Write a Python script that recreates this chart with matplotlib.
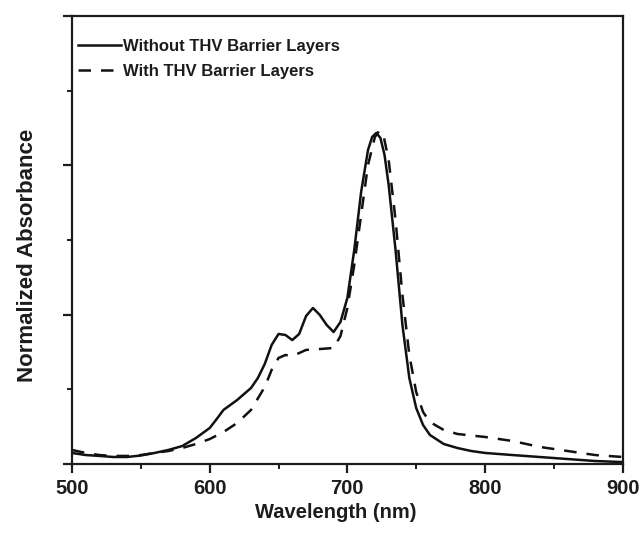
import matplotlib
matplotlib.use("Agg")
import matplotlib.pyplot as plt
from matplotlib.ticker import MultipleLocator, NullFormatter

plt.rcParams['font.family'] = ['Liberation Sans', 'DejaVu Sans']
plt.rcParams['font.weight'] = 'bold'

wl_without = [500, 510, 520, 530, 540, 550, 560, 570, 580, 590, 600, 605, 610, 620, 630, 635,
              640, 645, 650, 655, 660, 665, 670, 675, 680, 685, 690, 695, 700, 705, 710, 715,
              718, 721, 724, 727, 730, 735, 740, 745, 750, 755, 760, 770, 780, 790, 800, 820,
              850, 880, 900]
abs_without = [0.074, 0.060, 0.054, 0.047, 0.047, 0.057, 0.074, 0.094, 0.120, 0.174, 0.241, 0.300,
               0.362, 0.429, 0.509, 0.576, 0.670, 0.797, 0.871, 0.864, 0.830, 0.871, 0.991, 1.045,
               0.998, 0.931, 0.884, 0.951, 1.112, 1.433, 1.822, 2.103, 2.190, 2.217, 2.184, 2.070,
               1.869, 1.433, 0.931, 0.576, 0.375, 0.261, 0.194, 0.134, 0.107, 0.087, 0.074, 0.060,
               0.040, 0.020, 0.013]

wl_with = [500, 510, 520, 530, 540, 550, 560, 570, 580, 590, 600, 610, 620, 630, 640, 645, 650,
           655, 660, 665, 670, 680, 690, 695, 700, 705, 710, 715, 720, 723, 726, 730, 735, 740,
           745, 750, 755, 760, 770, 780, 800, 820, 840, 860, 880, 900]
abs_with = [0.094, 0.074, 0.060, 0.054, 0.054, 0.060, 0.074, 0.087, 0.107, 0.134, 0.167, 0.214,
            0.275, 0.362, 0.516, 0.630, 0.710, 0.730, 0.723, 0.743, 0.764, 0.770, 0.777, 0.857,
            1.045, 1.333, 1.668, 2.003, 2.190, 2.230, 2.210, 2.036, 1.634, 1.132, 0.730, 0.482,
            0.348, 0.281, 0.228, 0.201, 0.181, 0.154, 0.114, 0.087, 0.060, 0.047]

labels = ["Without THV Barrier Layers", "With THV Barrier Layers"]
xlabel = "Wavelength (nm)"
ylabel = "Normalized Absorbance"

fig = plt.figure(figsize=(6.4, 5.35), dpi=100)
ax = fig.add_axes([0.1125, 0.1327, 0.8605, 0.8373])

ink = '#1c1c1c'
ax.plot(wl_without, abs_without, color='#111111', lw=1.8, ls='-', label=labels[0])
ax.plot(wl_with, abs_with, color='#111111', lw=1.8, ls=(0, (5, 4)), label=labels[1])

ax.set_xlim(500, 900)
ax.set_ylim(0, 3)
ax.xaxis.set_major_locator(MultipleLocator(100))
ax.xaxis.set_minor_locator(MultipleLocator(50))
ax.yaxis.set_major_locator(MultipleLocator(1))
ax.yaxis.set_minor_locator(MultipleLocator(0.5))
ax.yaxis.set_major_formatter(NullFormatter())
ax.tick_params(which='major', direction='out', length=6.5, width=1.6, colors=ink,
               labelsize=14.5, top=False, right=False, pad=4)
ax.tick_params(which='minor', direction='out', length=3.5, width=1.4, colors=ink,
               top=False, right=False)
for lab in ax.get_xticklabels():
    lab.set_fontweight('bold')
for s in ax.spines.values():
    s.set_linewidth(1.6)
    s.set_color(ink)

ax.set_xlabel(xlabel, fontsize=14.5, fontweight='bold', color=ink)
ax.set_ylabel(ylabel, fontsize=16, fontweight='bold', color=ink)
ax.xaxis.set_label_coords(0.479, -0.087)
ax.yaxis.set_label_coords(-0.062, 0.466)

leg = ax.legend(loc='upper left', frameon=False, fontsize=12, handlelength=2.6,
                handletextpad=0.1, borderaxespad=0.1, labelspacing=0.6,
                bbox_to_anchor=(-0.004, 0.967))
for t in leg.get_texts():
    t.set_fontweight('bold')
    t.set_color(ink)

fig.savefig("out.png", dpi=100)
